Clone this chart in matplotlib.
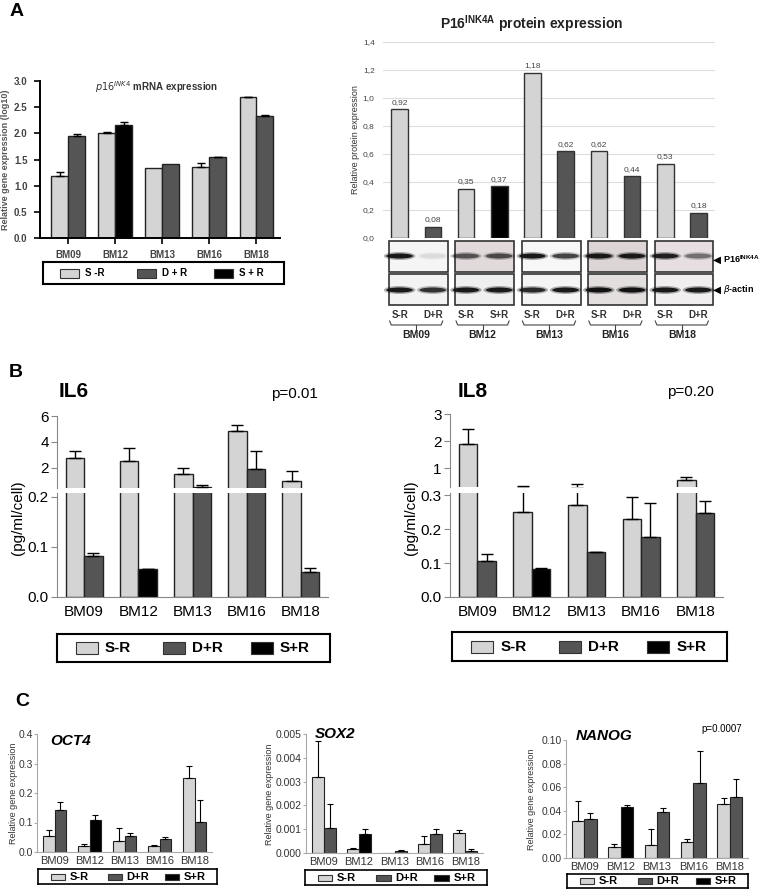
import numpy as np
import matplotlib
matplotlib.use("Agg")
import matplotlib.pyplot as plt
from matplotlib.patches import Rectangle, Ellipse

plt.rcParams['font.family'] = ['Liberation Sans', 'DejaVu Sans']
plt.rcParams['mathtext.default'] = 'regular'

# ---- data -------------------------------------------------------------
samples = ['BM09', 'BM12', 'BM13', 'BM16', 'BM18']
second_arm = ['D+R', 'S+R', 'D+R', 'D+R', 'D+R']

# A: p16 mRNA (log10)
mrna_sr = [1.18, 2.01, 1.34, 1.36, 2.69]
mrna_sr_err = [0.08, 0.01, 0.0, 0.08, 0.01]
mrna_tr = [1.95, 2.15, 1.42, 1.54, 2.34]
mrna_tr_err = [0.04, 0.07, 0.0, 0.01, 0.01]

# A: P16 protein (densitometry)
prot_sr = [0.92, 0.35, 1.18, 0.62, 0.53]
prot_tr = [0.08, 0.37, 0.62, 0.44, 0.18]
# western blot band strength (0-1), per lane
p16_band = [0.95, 0.08, 0.6, 0.65, 0.95, 0.7, 0.95, 0.95, 0.9, 0.45]
actin_band = [0.95, 0.8, 0.95, 0.95, 0.85, 0.95, 1.0, 1.0, 0.95, 0.95]

# B: cytokines (pg/ml/cell)
il6_sr = [2.75, 2.5, 1.55, 4.85, 1.0]
il6_sr_err = [0.55, 1.0, 0.45, 0.45, 0.77]
il6_tr = [0.083, 0.056, 0.55, 1.92, 0.051]
il6_tr_err = [0.006, 0.001, 0.15, 1.38, 0.008]

il8_sr = [1.89, 0.25, 0.27, 0.23, 0.56]
il8_sr_err = [0.55, 0.08, 0.14, 0.063, 0.11]
il8_tr = [0.106, 0.083, 0.132, 0.178, 0.246]
il8_tr_err = [0.02, 0.001, 0.001, 0.098, 0.036]

# C: stemness genes
oct4_sr = [0.055, 0.021, 0.036, 0.021, 0.252]
oct4_sr_err = [0.018, 0.006, 0.045, 0.003, 0.038]
oct4_tr = [0.142, 0.11, 0.055, 0.045, 0.103]
oct4_tr_err = [0.028, 0.016, 0.01, 0.007, 0.072]

sox2_sr = [0.00321, 0.00017, 0.0, 0.00038, 0.00082]
sox2_sr_err = [0.0015, 0.00004, 0.0, 0.00035, 0.00015]
sox2_tr = [0.00104, 0.0008, 0.0001, 0.0008, 0.0001]
sox2_tr_err = [0.001, 0.0002, 0.00003, 0.00022, 0.00005]

nanog_sr = [0.0317, 0.0096, 0.0113, 0.0139, 0.046]
nanog_sr_err = [0.0162, 0.0024, 0.0137, 0.0025, 0.005]
nanog_tr = [0.0334, 0.0428, 0.039, 0.0632, 0.0513]
nanog_tr_err = [0.0046, 0.0022, 0.0035, 0.0274, 0.0153]

LIGHT = '#d4d4d4'
DARK = '#555555'
BLACK = '#000000'
tr_colors = [BLACK if a == 'S+R' else DARK for a in second_arm]

W, H = 763, 894
fig = plt.figure(figsize=(W / 100, H / 100), dpi=100)


def px_axes(x0, y0, x1, y1):
    return fig.add_axes([x0 / W, 1 - y1 / H, (x1 - x0) / W, (y1 - y0) / H])


def ftext(x, y, s, **kw):
    kw.setdefault('ha', 'center')
    kw.setdefault('va', 'center')
    return fig.text(x / W, 1 - y / H, s, **kw)


def grouped(ax, sr, sr_err, tr, tr_err, width, lw, capsize, floor=None):
    x = np.arange(len(samples))
    ax.bar(x - width / 2, sr, width, color=LIGHT, edgecolor='#222222', linewidth=lw)
    ax.bar(x + width / 2, tr, width, color=tr_colors, edgecolor='#222222', linewidth=lw)
    for xs, vals, errs in ((x - width / 2, sr, sr_err), (x + width / 2, tr, tr_err)):
        vals = np.array(vals)
        errs = np.array(errs)
        m = errs > 0
        if floor is not None:
            m &= (vals + errs) > floor
        if m.any():
            ax.errorbar(xs[m], vals[m], yerr=[np.zeros(m.sum()), errs[m]], fmt='none',
                        ecolor='black', elinewidth=lw, capsize=capsize, capthick=lw)


def legend_box(x0, y0, x1, y1, fs, labels, lw=1.5):
    lax = px_axes(x0, y0, x1, y1)
    lax.set_xlim(0, 1)
    lax.set_ylim(0, 1)
    lax.set_xticks([])
    lax.set_yticks([])
    for s in lax.spines.values():
        s.set_linewidth(lw)
    for hx, c, lab in zip([0.07, 0.39, 0.71], (LIGHT, DARK, BLACK), labels):
        lax.add_patch(Rectangle((hx, 0.28), 0.08, 0.42, facecolor=c, edgecolor='#333333', lw=0.8))
        lax.text(hx + 0.105, 0.49, lab, ha='left', va='center', fontsize=fs, fontweight='bold')


# ---- panel letters ----------------------------------------------------
ftext(17, 11, 'A', fontsize=14, fontweight='bold')
ftext(16, 372, 'B', fontsize=14, fontweight='bold')
ftext(22, 702, 'C', fontsize=14, fontweight='bold')

# ---- A left: mRNA -----------------------------------------------------
ax = px_axes(40, 81, 280, 238)
grouped(ax, mrna_sr, mrna_sr_err, mrna_tr, mrna_tr_err, 0.36, 1.0, 3)
ax.set_xlim(-0.6, 4.5)
ax.set_ylim(0, 3)
ax.set_yticks(np.arange(0, 3.01, 0.5))
ax.set_yticklabels([f'{v:.1f}' for v in np.arange(0, 3.01, 0.5)], fontsize=7, fontweight='bold', color='#444444')
ax.set_xticks(np.arange(5))
ax.set_xticklabels(samples, fontsize=7, fontweight='bold', color='#444444')
for s in ('top', 'right'):
    ax.spines[s].set_visible(False)
for s in ('left', 'bottom'):
    ax.spines[s].set_linewidth(1.4)
ax.tick_params(length=4, width=1.2, pad=5)
ftext(157, 87, r'$\mathit{p16}^{\mathit{INK4}}$ mRNA expression', fontsize=7, fontweight='bold', color='#333333')
ftext(6, 160, 'Relative gene expression (log10)', fontsize=6.5, fontweight='bold',
      color='#555555', rotation=90)
legend_box(43, 262, 284, 284, 7, ['S -R', 'D + R', 'S + R'], lw=1.5)

# ---- A right: protein -------------------------------------------------
axp = px_axes(383, 42, 715, 238)
pos = np.arange(10)
prot_vals = np.ravel(np.column_stack([prot_sr, prot_tr]))
prot_cols = np.ravel(np.column_stack([[LIGHT] * 5, tr_colors]))
axp.bar(pos, prot_vals, 0.5, color=prot_cols, edgecolor='#333333', linewidth=1.0, zorder=3)
for xi, v in zip(pos, prot_vals):
    axp.text(xi, v + 0.025, f'{v:.2f}'.replace('.', ','), ha='center', va='bottom',
             fontsize=6, color='#444444')
axp.set_xlim(-0.5, 9.5)
axp.set_ylim(0, 1.4)
axp.set_yticks(np.arange(0, 1.41, 0.2))
axp.set_yticklabels([f'{v:.1f}'.replace('.', ',') for v in np.arange(0, 1.41, 0.2)],
                    fontsize=6, color='#444444')
axp.set_xticks([])
axp.grid(axis='y', color='#dddddd', linewidth=0.8, zorder=0)
for s in axp.spines.values():
    s.set_visible(False)
axp.tick_params(length=0, pad=6)
ftext(532, 24, r'P16$^{INK4A}$ protein expression', fontsize=10, fontweight='bold', color='#222222')
ftext(355, 140, 'Relative protein expression', fontsize=6.5, color='#333333', rotation=90)

# western blot sketch
axb = px_axes(383, 240, 715, 340)
axb.set_xlim(-0.5, 9.5)
axb.set_ylim(340, 240)
axb.axis('off')
top_bg = ['#f5f5f5', '#e2d9db', '#f7f7f7', '#ddd4d6', '#e6dee0']
bot_bg = ['#f3f3f3', '#efefef', '#f5f5f5', '#e3dfdf', '#f0eeee']
for i in range(5):
    axb.add_patch(Rectangle((2 * i - 0.32, 241), 1.77, 31, facecolor=top_bg[i], edgecolor='#333333', lw=1.2))
    axb.add_patch(Rectangle((2 * i - 0.32, 274), 1.77, 31, facecolor=bot_bg[i], edgecolor='#333333', lw=1.2))
    for j in range(2):
        lane = 2 * i + j
        for yc, strength in ((256, p16_band[lane]), (290, actin_band[lane])):
            axb.add_patch(Ellipse((lane, yc), 0.95, 8, facecolor='#111111', alpha=strength * 0.35, lw=0))
            axb.add_patch(Ellipse((lane, yc), 0.8, 5, facecolor='#111111', alpha=strength, lw=0))
        axb.text(lane, 315, ['S-R', second_arm[i]][j], ha='center', va='center', fontsize=7,
                 fontweight='bold', color='#333333')
    axb.plot([2 * i - 0.3, 2 * i - 0.25, 2 * i + 1.25, 2 * i + 1.3], [321, 325, 325, 321], color='#444444', lw=0.8)
    axb.plot([2 * i + 0.5, 2 * i + 0.5], [325, 329], color='#444444', lw=0.8)
    axb.text(2 * i + 0.5, 335, samples[i], ha='center', va='center', fontsize=7.5,
             fontweight='bold', color='#222222')
ftext(713, 260, '◀', fontsize=7.5, family='DejaVu Sans', ha='left')
ftext(723, 259, r'P16$^{INK4A}$', fontsize=6.5, fontweight='bold', ha='left')
ftext(713, 290, '◀', fontsize=7.5, family='DejaVu Sans', ha='left')
ftext(723, 290, r'$\mathit{\beta}$-actin', fontsize=6.5, fontweight='bold', ha='left')


# ---- B: cytokines (broken axes) ---------------------------------------
def broken(x0, x1, ytop, ybrk_hi, ybrk_lo, ybot, lim_hi, lim_lo, ticks_hi, ticks_lo,
           sr, sr_err, tr, tr_err):
    axu = px_axes(x0, ytop, x1, ybrk_hi)
    axl = px_axes(x0, ybrk_lo, x1, ybot)
    grouped(axu, sr, sr_err, tr, tr_err, 0.34, 1.0, 4, floor=lim_hi[0] * 1.03)
    grouped(axl, sr, sr_err, tr, tr_err, 0.34, 1.0, 4)
    for a in (axu, axl):
        a.set_xlim(-0.5, 4.5)
        a.spines['top'].set_visible(False)
        a.spines['right'].set_visible(False)
        a.spines['left'].set_color('#888888')
        a.spines['bottom'].set_color('#888888')
        a.tick_params(axis='y', length=4, color='#888888', labelsize=11, pad=2)
    axu.spines['bottom'].set_visible(False)
    axu.set_xticks([])
    axu.set_ylim(*lim_hi)
    axu.set_yticks(ticks_hi)
    axu.set_yticklabels([str(t) for t in ticks_hi])
    axl.set_ylim(*lim_lo)
    axl.set_yticks(ticks_lo)
    axl.set_yticklabels([f'{t:.1f}' for t in ticks_lo])
    axl.set_xticks(np.arange(5))
    axl.set_xticklabels(samples, fontsize=11)
    axl.tick_params(axis='x', length=0, pad=6)


broken(57, 328, 416, 488, 493, 597, (0.46, 6), (0, 0.208), [2, 4, 6], [0.0, 0.1, 0.2],
       il6_sr, il6_sr_err, il6_tr, il6_tr_err)
ftext(74, 392, 'IL6', fontsize=15, fontweight='bold')
ftext(294, 394, 'p=0.01', fontsize=11)
ftext(18, 518, '(pg/ml/cell)', fontsize=11, rotation=90)
legend_box(57, 634, 330, 662, 11, ['S-R', 'D+R', 'S+R'], lw=1.5)

broken(450, 723, 414, 487, 493, 597, (0.3, 3), (0, 0.306), [1, 2, 3], [0.0, 0.1, 0.2, 0.3],
       il8_sr, il8_sr_err, il8_tr, il8_tr_err)
ftext(473, 392, 'IL8', fontsize=15, fontweight='bold')
ftext(690, 392, 'p=0.20', fontsize=11)
ftext(411, 518, '(pg/ml/cell)', fontsize=11, rotation=90)
legend_box(452, 632, 727, 661, 11, ['S-R', 'D+R', 'S+R'], lw=1.5)


# ---- C: stemness genes ------------------------------------------------
def small(x0, y0, x1, y1, ymax, step, dec, sr, sr_err, tr, tr_err):
    a = px_axes(x0, y0, x1, y1)
    grouped(a, sr, sr_err, tr, tr_err, 0.34, 0.8, 2.5)
    a.set_xlim(-0.5, 4.5)
    a.set_ylim(0, ymax)
    ticks = np.arange(0, ymax + step / 2, step)
    a.set_yticks(ticks)
    a.set_yticklabels([f'{t:.{dec}f}' for t in ticks])
    a.set_xticks(np.arange(5))
    a.set_xticklabels(samples)
    a.spines['top'].set_visible(False)
    a.spines['right'].set_visible(False)
    a.spines['left'].set_color('#aaaaaa')
    a.spines['bottom'].set_color('#aaaaaa')
    a.tick_params(axis='y', length=2, color='#aaaaaa', labelsize=7.5, labelcolor='#333333', pad=1)
    a.tick_params(axis='x', length=0, labelsize=8, labelcolor='#333333', pad=3)
    return a


small(37, 734, 212, 852, 0.4, 0.1, 1, oct4_sr, oct4_sr_err, oct4_tr, oct4_tr_err)
ftext(50, 741, 'OCT4', fontsize=11, fontweight='bold', style='italic', ha='left')
ftext(13, 793, 'Relative gene expression', fontsize=6.5, rotation=90, color='#333333')
legend_box(38, 869, 217, 884, 8, ['S-R', 'D+R', 'S+R'], lw=1.2)

small(306, 734, 483, 853, 0.005, 0.001, 3, sox2_sr, sox2_sr_err, sox2_tr, sox2_tr_err)
ftext(315, 734, 'SOX2', fontsize=11, fontweight='bold', style='italic', ha='left')
ftext(270, 794, 'Relative gene expression', fontsize=6.5, rotation=90, color='#333333')
legend_box(305, 870, 487, 885, 8, ['S-R', 'D+R', 'S+R'], lw=1.2)

small(566, 740, 748, 858, 0.1, 0.02, 2, nanog_sr, nanog_sr_err, nanog_tr, nanog_tr_err)
ftext(576, 736, 'NANOG', fontsize=11, fontweight='bold', style='italic', ha='left')
ftext(722, 729, 'p=0.0007', fontsize=7)
ftext(532, 799, 'Relative gene expression', fontsize=6.5, rotation=90, color='#333333')
legend_box(567, 874, 748, 888, 8, ['S-R', 'D+R', 'S+R'], lw=1.2)

fig.savefig('out.png', dpi=100)
